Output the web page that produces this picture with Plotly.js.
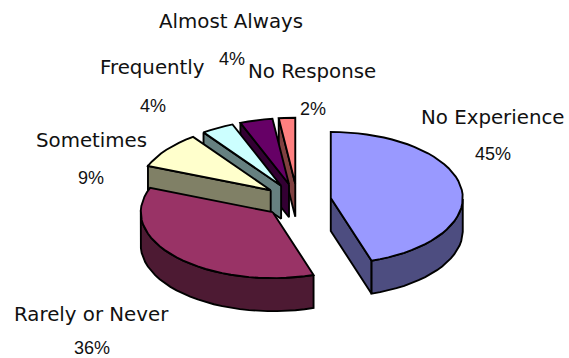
<!DOCTYPE html>
<html>
<head>
<meta charset="utf-8">
<script src="https://cdn.plot.ly/plotly-3.0.1.min.js"></script>
<style>html,body{margin:0;padding:0;background:#fff}</style>
</head>
<body>
<div id="chart" style="width:569px;height:358px"></div>
<script>
// Survey responses, in percent, clockwise from twelve o'clock
const categories = ['No Experience', 'Rarely or Never', 'Sometimes', 'Frequently', 'Almost Always', 'No Response'];
const values = [45, 36, 9, 4, 4, 2];
const topColors = ['#9999FF', '#993366', '#FFFFCC', '#CCFFFF', '#660066', '#FF8080'];
const wallColors = ['#4D4D80', '#4D1A33', '#808066', '#668080', '#330033', '#804040'];

// Label anchors on the page, in pixels
const nameAnchors = [[493, 117], [91, 314], [91, 141], [152, 67], [231, 22], [312, 71]];
const percentAnchors = [[493, 154], [92, 348], [91, 178], [153, 106], [232, 59], [313, 109]];

// Projection of the tilted pie; lengths are in units of the pie radius
const W = 569, H = 358;
const centerPx = [297.4, 200.6], radiusPx = 132;
const tilt = 0.5, explode = 0.256, depth = 0.25;

const project = (cx, cy, deg) => {
  const a = deg * Math.PI / 180;
  return [cx + Math.sin(a), cy + Math.cos(a) * tilt];
};

const traces = [];
const addPolygon = (pts, color) => traces.push({
  type: 'scatter', mode: 'lines', x: pts.map(p => p[0]), y: pts.map(p => p[1]),
  fill: 'toself', fillcolor: color, line: {color: '#000', width: 1.9},
  hoverinfo: 'skip', showlegend: false
});
const lowered = p => [p[0], p[1] - depth];

// Build each wedge from its share of the total
const total = values.reduce((s, v) => s + v, 0);
let running = 0;
const wedges = values.map((v, i) => {
  const start = running / total * 360;
  running += v;
  return {i, start, end: running / total * 360};
});

// Back slices first so the front ones paint over them
wedges.slice().reverse().forEach(({i, start, end}) => {
  const mid = (start + end) / 2 * Math.PI / 180;
  const cx = Math.sin(mid) * explode;
  const cy = Math.cos(mid) * explode * tilt;
  const apex = [cx, cy];
  const steps = Math.max(3, Math.round((end - start) / 4));
  const arc = [];
  for (let k = 0; k <= steps; k++) arc.push(project(cx, cy, start + (end - start) * k / steps));

  // Radial walls face the viewer only when they run leftward on screen
  const first = arc[0], last = arc[arc.length - 1];
  if (first[0] < apex[0] - 1e-6) addPolygon([apex, first, lowered(first), lowered(apex), apex], wallColors[i]);
  if (apex[0] < last[0] - 1e-6) addPolygon([last, apex, lowered(apex), lowered(last), last], wallColors[i]);

  // Outer rim wall, only where the arc travels leftward
  const rim = arc.filter((p, k) => {
    const prev = arc[k - 1], next = arc[k + 1];
    return (next && next[0] < p[0]) || (prev && p[0] < prev[0]);
  });
  if (rim.length > 1) addPolygon(rim.concat(rim.slice().reverse().map(lowered), [rim[0]]), wallColors[i]);

  addPolygon([apex].concat(arc, [apex]), topColors[i]);
});

const textFont = {family: '"DejaVu Sans", sans-serif', size: 19.8, color: '#111'};
const percentFont = {family: '"Liberation Sans", sans-serif', size: 18, color: '#111'};
const note = (text, at, font) => ({
  text, font, xref: 'paper', yref: 'paper', x: at[0] / W, y: 1 - at[1] / H,
  xanchor: 'center', yanchor: 'middle', showarrow: false, borderpad: 0
});
const annotations = [];
categories.forEach((c, i) => {
  annotations.push(note(c, nameAnchors[i], textFont));
  annotations.push(note(values[i] + '%', percentAnchors[i], percentFont));
});

const hidden = {visible: false, fixedrange: true};
Plotly.newPlot('chart', traces, {
  width: W, height: H, margin: {l: 0, r: 0, t: 0, b: 0},
  paper_bgcolor: '#fff', plot_bgcolor: '#fff', showlegend: false,
  xaxis: {...hidden, range: [-centerPx[0] / radiusPx, (W - centerPx[0]) / radiusPx]},
  yaxis: {...hidden, range: [(centerPx[1] - H) / radiusPx, centerPx[1] / radiusPx]},
  annotations
}, {displayModeBar: false, staticPlot: true});
</script>
</body>
</html>
